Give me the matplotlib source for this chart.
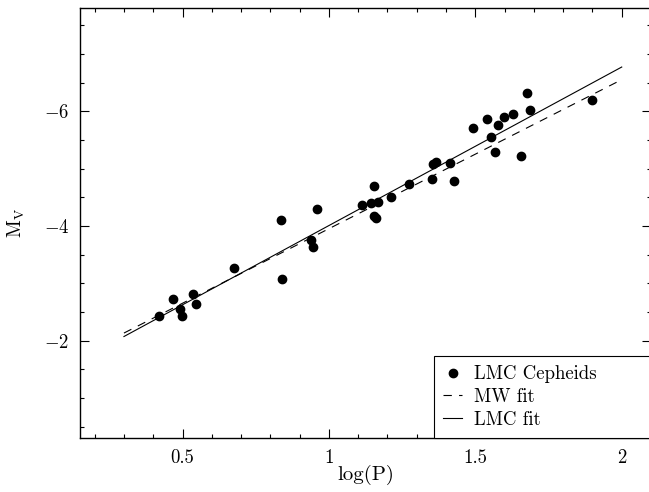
"""
Cepheid period-luminosity relation: LMC Cepheids with MW and LMC fits.
"""

import numpy as np
import matplotlib
matplotlib.use("Agg")
import matplotlib.pyplot as plt
from matplotlib.ticker import MultipleLocator, FuncFormatter

plt.rcParams["font.family"] = "serif"
plt.rcParams["font.serif"] = ["cmr10", "DejaVu Serif"]
plt.rcParams["mathtext.fontset"] = "cm"
plt.rcParams["axes.formatter.use_mathtext"] = True

# LMC Cepheids (log P, M_V)
log_p = [0.419, 0.469, 0.490, 0.497, 0.535, 0.546, 0.675, 0.837, 0.839,
         0.939, 0.945, 0.959, 1.113, 1.143, 1.153, 1.154, 1.160, 1.167,
         1.211, 1.273, 1.353, 1.355, 1.366, 1.414, 1.426, 1.493, 1.539,
         1.555, 1.568, 1.576, 1.597, 1.628, 1.656, 1.677, 1.686, 1.898]
m_v = [-2.42, -2.72, -2.55, -2.43, -2.81, -2.64, -3.26, -4.11, -3.07,
       -3.76, -3.63, -4.30, -4.37, -4.40, -4.70, -4.18, -4.14, -4.42,
       -4.51, -4.73, -4.82, -5.07, -5.11, -5.09, -4.78, -5.71, -5.87,
       -5.55, -5.28, -5.76, -5.90, -5.95, -5.22, -6.32, -6.02, -6.19]

# linear fits M_V = a + b log P
fit_range = [0.3, 2.0]
mw_fit = (-1.35, -2.60)
lmc_fit = (-1.24, -2.765)

fig = plt.figure(figsize=(6.49, 4.92), dpi=100)
ax = fig.add_axes([0.1233, 0.1098, 0.8798, 0.874])

ax.plot(log_p, m_v, "o", color="black", markersize=6, label="LMC Cepheids",
        zorder=5)

xf = np.array(fit_range)
ax.plot(xf, mw_fit[0] + mw_fit[1] * xf, color="black", linewidth=0.8,
        dashes=(7.5, 6.5), label="MW fit")
ax.plot(xf, lmc_fit[0] + lmc_fit[1] * xf, color="black", linewidth=0.8,
        label="LMC fit")

ax.set_xlim(0.15, 2.1)
ax.set_ylim(-0.3, -7.8)

ax.xaxis.set_major_locator(MultipleLocator(0.5))
ax.xaxis.set_minor_locator(MultipleLocator(0.1))
ax.yaxis.set_major_locator(MultipleLocator(2))
ax.yaxis.set_minor_locator(MultipleLocator(0.5))
ax.xaxis.set_major_formatter(FuncFormatter(lambda v, p: f"{v:g}"))
ax.yaxis.set_major_formatter(FuncFormatter(lambda v, p: f"${v:g}$"))

ax.tick_params(which="both", direction="in", top=True, right=True,
               labelsize=13.5, width=0.8, pad=8)
ax.tick_params(which="major", length=6.5)
ax.tick_params(which="minor", length=3.2)
for s in ax.spines.values():
    s.set_linewidth(1.0)

ax.set_xlabel("log(P)", fontsize=15, labelpad=-1.5)
ax.set_ylabel(r"$\mathrm{M_V}$", fontsize=14, labelpad=12)

leg = ax.legend(loc="lower left", bbox_to_anchor=(0.62, 0, 0.38, 0.2),
                mode="expand", borderaxespad=0,
                fancybox=False, edgecolor="black", framealpha=1, fontsize=13.5,
                handlelength=1.0, handletextpad=0.65, labelspacing=0.25,
                borderpad=0.5, numpoints=1)
leg.get_frame().set_linewidth(0.8)

fig.savefig("out.png", dpi=100)
